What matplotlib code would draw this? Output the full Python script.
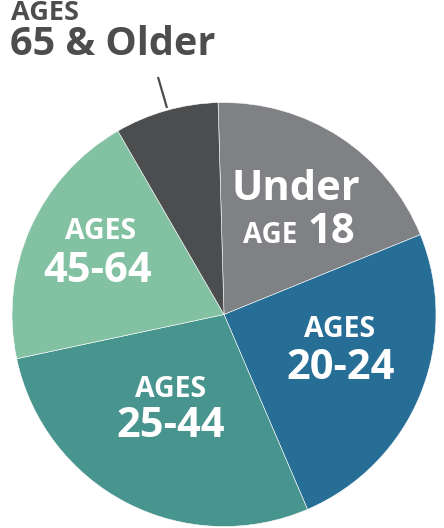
import matplotlib.pyplot as plt

plt.rcParams['font.family'] = ['Open Sans', 'DejaVu Sans']

# age groups, clockwise from 12 o'clock
groups = ['Under 18', '20-24', '25-44', '45-64', '65 & Older']
shares = [19.3, 24.7, 28.1, 20.0, 7.9]
colors = ['#808184', '#266e96', '#48948e', '#83c1a3', '#4c4d4f']

W, H = 444, 528
fig = plt.figure(figsize=(W / 100, H / 100), dpi=100)
ax = fig.add_axes([0, 0, 1, 1])

cx, cy, r = 224, H - 314.5, 212
ax.pie(shares, colors=colors, startangle=91.6, counterclock=False,
       center=(cx, cy), radius=r, frame=True,
       wedgeprops=dict(edgecolor='white', linewidth=0.4))
ax.set_xlim(0, W)
ax.set_ylim(0, H)
ax.set_aspect('equal')
ax.axis('off')

white = dict(color='white', fontweight='bold', ha='center', va='baseline')
dark = '#4d4d4f'


def y(p):
    return H - p


# Under 18
ax.text(296, y(200), 'Under', fontsize=30, **white)
ax.text(270, y(243), 'AGE', fontsize=20, **white)
ax.text(331, y(243), '18', fontsize=30, **white)

# 20-24
ax.text(340, y(337), 'AGES', fontsize=20.5, **white)
ax.text(341, y(379), '20-24', fontsize=30, **white)

# 25-44
ax.text(171, y(397), 'AGES', fontsize=20.5, **white)
ax.text(171, y(437), '25-44', fontsize=30, **white)

# 45-64
ax.text(101, y(239), 'AGES', fontsize=20.5, **white)
ax.text(98, y(282), '45-64', fontsize=30, **white)

# 65 & Older sits outside with a leader line
ax.text(11, y(20), 'AGES', fontsize=19.5, color=dark, fontweight='bold',
        ha='left', va='baseline')
ax.text(10, y(55), '65 & Older', fontsize=28.5, color=dark, fontweight='bold',
        ha='left', va='baseline')
ax.plot([158, 167], [y(77), y(108)], color=dark, linewidth=1.6,
        solid_capstyle='butt')

fig.savefig('out.png', dpi=100)
